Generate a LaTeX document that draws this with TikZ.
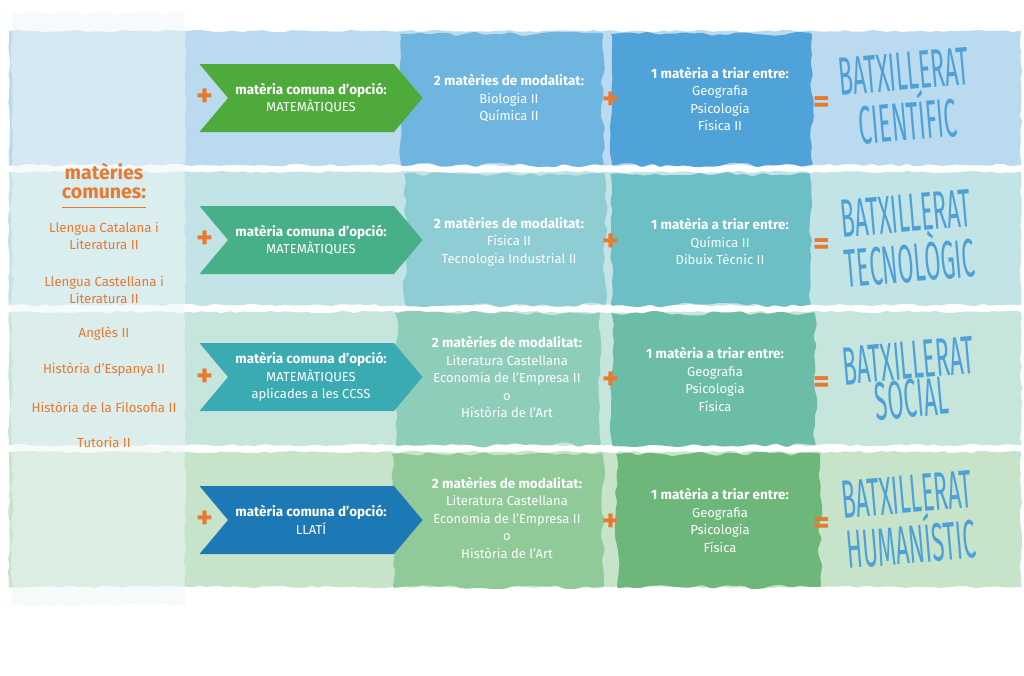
\documentclass[tikz,border=0pt]{standalone}
\usepackage{fontspec}
\setmainfont{Fira Sans}
\usetikzlibrary{shapes.symbols,decorations.pathmorphing}
\definecolor{bandA}{HTML}{B9DAEF}
\definecolor{bandB}{HTML}{C3E4E6}
\definecolor{bandC}{HTML}{C5E5DD}
\definecolor{bandD}{HTML}{C7E4CA}
\definecolor{modA}{HTML}{6EB5E0}
\definecolor{modB}{HTML}{8DCDD3}
\definecolor{modC}{HTML}{8ECDBA}
\definecolor{modD}{HTML}{8FCA98}
\definecolor{triA}{HTML}{4FA3D8}
\definecolor{triB}{HTML}{6BBFC5}
\definecolor{triC}{HTML}{6BBDA7}
\definecolor{triD}{HTML}{6EB77B}
\definecolor{chevA}{HTML}{4EAB3B}
\definecolor{chevB}{HTML}{47B088}
\definecolor{chevC}{HTML}{3AAAB3}
\definecolor{chevD}{HTML}{1C79B5}
\definecolor{orangeC}{HTML}{E8792F}
\definecolor{titleC}{HTML}{4DA0D8}
\definecolor{panelC}{HTML}{EEF6F8}
\newcommand\hd[1]{{\fontsize{13.5}{17.5}\selectfont\bfseries #1}}

\begin{document}
\begin{tikzpicture}[x=1pt, y=-1pt,
  rag/.style = {decorate, decoration={random steps, segment length=7pt, amplitude=1.2pt},
    rounded corners=1pt},
  blob/.style = {decorate, decoration={random steps, segment length=9pt, amplitude=2.5pt},
    rounded corners=2pt},
  chevron/.style = {shape=signal, signal from=west, signal to=east,
    signal pointer angle=100, minimum width=223pt, minimum height=68pt,
    inner sep=0pt, text=white, align=center,
    font=\fontsize{13}{17.5}\selectfont},
  box/.style = {text=white, align=center, font=\fontsize{13}{17.5}\selectfont},
  head/.style = {text=orangeC, align=center, inner sep=0pt,
    font=\fontsize{19.5}{18.5}\selectfont\bfseries},
  common/.style = {text=orangeC, align=center, font=\fontsize{13.2}{17}\selectfont},
  plus/.style = {text=orangeC, inner sep=0pt, font=\fontsize{32}{32}\selectfont\bfseries},
  title/.style = {text=titleC, align=center, rotate=5, xscale=.43,
    font=\fontsize{54}{38}\selectfont}]
\useasboundingbox (0,0) rectangle (1024,675);
\pgfmathsetseed{7}

% bands
\fill[bandA, rag] (9,31) rectangle (1021,165);
\fill[bandB, rag] (9,172) rectangle (1021,305);
\fill[bandC, rag] (9,312) rectangle (1021,445);
\fill[bandD, rag] (9,452) rectangle (1021,587);

% common subjects panel
\fill[panelC, opacity=.55, rag] (12,13) rectangle (185,605);

% blobs
\fill[modA, blob] (401,34) rectangle (603,165);
\fill[triA, blob] (612,34) rectangle (812,165);
\fill[modB, blob] (405,174) rectangle (605,305);
\fill[triB, blob] (611,174) rectangle (810,305);
\fill[modC, blob] (396,313) rectangle (600,445);
\fill[triC, blob] (612,313) rectangle (815,445);
\fill[modD, blob] (393,454) rectangle (603,587);
\fill[triD, blob] (617,454) rectangle (820,587);

% left column
\node[head] (head) at (104,181) {matèries\\comunes:};
\draw[orangeC, line width=1.2pt] ([yshift=-9pt]head.south west) -- ([yshift=-9pt]head.south east);
\node[common] (c1) at (104,235.5) {Llengua Catalana i\\Literatura II};
\node[common] (c2) at (104,289.5) {Llengua Castellana i\\Literatura II};
\node[common] (c3) at (104,334) {Anglès II};
\node[common] (c4) at (104,370) {Història d’Espanya II};
\node[common] (c5) at (104,407) {Història de la Filosofia II};
\node[common] (c6) at (104,442) {Tutoria II};

% row 1
\node[chevron, fill=chevA] (opt1) at (311,98) {\hd{matèria comuna d’opció:}\\MATEMÀTIQUES};
\node[box] (mod1) at (509,98.5) {\hd{2 matèries de modalitat:}\\Biologia II\\Química II};
\node[box] (tri1) at (720,99) {\hd{1 matèria a triar entre:}\\Geografia\\Psicologia\\Física II};
\node[title] (bat1) at (906,97) {BATXILLERAT\\CIENTÍFIC};

% row 2
\node[chevron, fill=chevB] (opt2) at (311,240) {\hd{matèria comuna d’opció:}\\MATEMÀTIQUES};
\node[box] (mod2) at (509,241.5) {\hd{2 matèries de modalitat:}\\Física II\\Tecnologia Industrial II};
\node[box] (tri2) at (720,241.5) {\hd{1 matèria a triar entre:}\\Química II\\Dibuix Tècnic II};
\node[title] (bat2) at (908,239) {BATXILLERAT\\TECNOLÒGIC};

% row 3
\node[chevron, fill=chevC] (opt3) at (311,377) {\hd{matèria comuna d’opció:}\\MATEMÀTIQUES\\aplicades a les CCSS};
\node[box] (mod3) at (507,377) {\hd{2 matèries de modalitat:}\\Literatura Castellana\\Economia de l’Empresa II\\o\\Història de l’Art};
\node[box] (tri3) at (715,379.5) {\hd{1 matèria a triar entre:}\\Geografia\\Psicologia\\Física};
\node[title] (bat3) at (910,380) {BATXILLERAT\\SOCIAL};

% row 4
\node[chevron, fill=chevD] (opt4) at (311,520) {\hd{matèria comuna d’opció:}\\LLATÍ};
\node[box] (mod4) at (507,517.5) {\hd{2 matèries de modalitat:}\\Literatura Castellana\\Economia de l’Empresa II\\o\\Història de l’Art};
\node[box] (tri4) at (720,520.5) {\hd{1 matèria a triar entre:}\\Geografia\\Psicologia\\Física};
\node[title] (bat4) at (909,520) {BATXILLERAT\\HUMANÍSTIC};

% plus and equals signs
\foreach \y/\d [count=\i] in {98/7, 240/7, 378/7, 520/6} {
  \node[plus] (pl\i) at (205,\y) {+};
  \node[plus] (pr\i) at (611,\y+3) {+};
  \node[plus] (eq\i) at (822,\y+\d) {=};
}
\end{tikzpicture}
\end{document}
